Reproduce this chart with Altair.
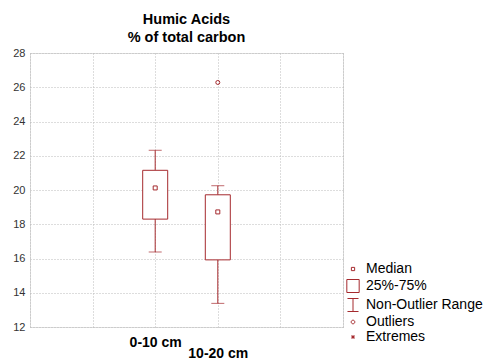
import altair as alt
import pandas as pd

# ---- data ----
categories = ["0-10 cm", "10-20 cm"]
medians = [20.12, 18.72]
q1 = [18.30, 15.92]
q3 = [21.15, 19.72]
whisk_low = [16.38, 13.38]
whisk_high = [22.32, 20.25]
outlier_cat = ["10-20 cm"]
outlier_val = [26.28]

legend_items = ["Median", "25%-75%", "Non-Outlier Range", "Outliers", "Extremes"]
y_ticks = [12, 14, 16, 18, 20, 22, 24, 26, 28]

COL = "#a52a2e"
FONT = "Liberation Sans"

# x slots: empty slots around the two categories so the grid matches
x_domain = [" ", "  "] + categories + ["   ", "    "]

df = pd.DataFrame({
    "cat": categories, "median": medians, "q1": q1, "q3": q3,
    "lo": whisk_low, "hi": whisk_high,
})
df_out = pd.DataFrame({"cat": outlier_cat, "val": outlier_val})
df_leg = pd.DataFrame({"item": legend_items})

xscale = alt.Scale(domain=x_domain, type="point", padding=0)
yscale = alt.Scale(domain=[12, 28], nice=False, zero=False)

x_axis = alt.Axis(
    labelAngle=0, ticks=False, domain=False, grid=True,
    labelFont=FONT, labelFontSize=14, labelFontWeight="bold", labelColor="#000",
    labelPadding={"condition": {"test": "datum.label == '10-20 cm'", "value": 19}, "value": 8.5},
    gridDash=[1, 2], gridColor="#bbbbbb",
)
y_axis = alt.Axis(
    values=y_ticks, ticks=False, domain=False, grid=True, gridDash=[1, 2], gridColor="#bbbbbb",
    labelFont=FONT, labelFontSize=11, labelColor="#333333", labelPadding=5, labelOverlap=False,
)


def X():
    return alt.X("cat:N", scale=xscale, title=None, axis=x_axis)


def Y(field):
    return alt.Y(field, scale=yscale, title=None, axis=y_axis)


base = alt.Chart(df)

whisk_lo = base.mark_rule(color=COL, strokeWidth=1).encode(x=X(), y=Y("lo:Q"), y2="q1:Q")
whisk_hi = base.mark_rule(color=COL, strokeWidth=1).encode(x=X(), y=Y("q3:Q"), y2="hi:Q")
cap_lo = base.mark_tick(color=COL, orient="horizontal", size=13, thickness=1).encode(x=X(), y=Y("lo:Q"))
cap_hi = base.mark_tick(color=COL, orient="horizontal", size=13, thickness=1).encode(x=X(), y=Y("hi:Q"))
box = base.mark_bar(orient="vertical", size=25, fill="white", stroke=COL, strokeWidth=1).encode(
    x=X(), y=Y("q1:Q"), y2="q3:Q")
med = base.mark_point(shape="square", size=16, filled=False, color=COL, strokeWidth=1, opacity=1).encode(
    x=X(), y=Y("median:Q"))
outl = alt.Chart(df_out).mark_point(shape="circle", size=16, filled=False, color=COL, strokeWidth=1, opacity=1).encode(
    x=X(), y=Y("val:Q"))

paths = [
    "M-0.25,-0.25H0.25V0.25H-0.25Z",
    "M-0.95,-1H0.95V1H-0.95Z",
    "M-0.85,-1H0.85M0,-1V1M-0.85,1H0.85",
    "M0.28,0A0.28,0.28 0 1,1 -0.28,0A0.28,0.28 0 1,1 0.28,0Z",
    "M-0.3,0H0.3M0,-0.3V0.3M-0.22,-0.22L0.22,0.22M-0.22,0.22L0.22,-0.22",
]
leg = alt.Chart(df_leg).mark_point(opacity=0, filled=False).encode(
    shape=alt.Shape(
        "item:N",
        scale=alt.Scale(domain=legend_items, range=paths),
        legend=alt.Legend(
            title=None, orient="none", legendX=316, legendY=209,
            symbolSize=169, symbolStrokeColor=COL, symbolFillColor="transparent",
            symbolOpacity=1, symbolStrokeWidth=1, symbolType="square",
            labelFont=FONT, labelFontSize=14, labelColor="#000", labelOffset=6,
            rowPadding=1, labelLimit=200,
        ),
    )
)

chart = alt.layer(whisk_lo, whisk_hi, cap_lo, cap_hi, box, med, outl, leg).properties(
    width=313, height=274,
    title=alt.TitleParams(
        text=["Humic Acids", "% of total carbon"], font=FONT, fontSize=14.5, fontWeight="bold",
        color="#000", anchor="middle", lineHeight=17.5, offset=2,
    ),
    padding={"left": 12, "top": 12, "right": 0, "bottom": 0},
).configure_view(stroke="#333333", strokeWidth=1).configure(background="white")

chart.save("out.html", embed_options={"renderer": "svg", "actions": False})
